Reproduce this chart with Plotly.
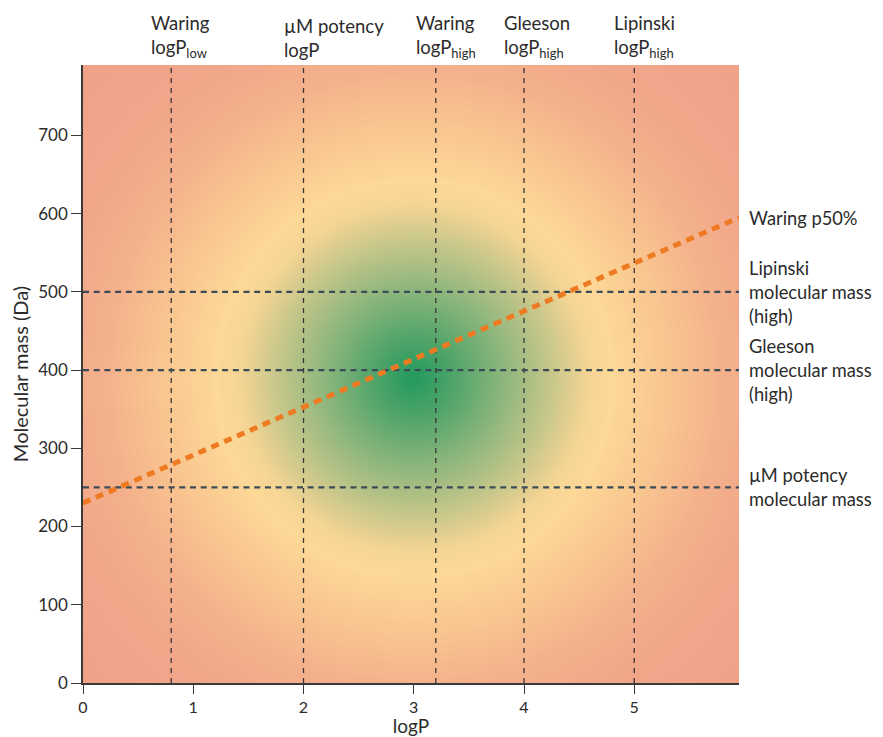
import numpy as np
import plotly.graph_objects as go

# ---- data ----
logp_lines = [0.8, 2.0, 3.2, 4.0, 5.0]
logp_labels = ["Waring<br>logP<sub>low</sub>", "µM potency<br>logP", "Waring<br>logP<sub>high</sub>",
               "Gleeson<br>logP<sub>high</sub>", "Lipinski<br>logP<sub>high</sub>"]
mass_lines = [500, 400, 250]
mass_labels = ["Lipinski<br>molecular mass<br>(high)", "Gleeson<br>molecular mass<br>(high)",
               "µM potency<br>molecular mass"]
p50_x = [0.0, 5.95]
p50_y = [230, 595]
p50_label = "Waring p50%"
x_ticks = [0, 1, 2, 3, 4, 5]
y_ticks = [0, 100, 200, 300, 400, 500, 600, 700]
optimum = (3.0, 390)

X_MAX, Y_MAX = 5.95, 790
# page body has an 8px default margin: figure is sized to fill the remaining window
W, H = 875, 729
L, R, T, B = 75, 144, 57, 54
px_x = (W - L - R) / X_MAX
px_y = (H - T - B) / Y_MAX

# background radial gradient (decorative)
gx = np.linspace(0, X_MAX, 150)
gy = np.linspace(0, Y_MAX, 200)
GX, GY = np.meshgrid(gx, gy)
rad = np.sqrt(((GX - optimum[0]) * px_x) ** 2 + ((GY - optimum[1]) * px_y) ** 2)
RMAX = 460
z = np.clip(rad / RMAX, 0, 1)

colorscale = [
    [0.0, "#239a5e"],
    [0.08, "#4ca369"],
    [0.20, "#90b77d"],
    [0.30, "#c8c78b"],
    [0.38, "#f6d594"],
    [0.43, "#fdd897"],
    [0.54, "#f9c790"],
    [0.67, "#f4b18c"],
    [0.80, "#f1a68a"],
    [1.0, "#f0a189"],
]

fig = go.Figure()
fig.add_trace(go.Heatmap(x=gx, y=gy, z=z, colorscale=colorscale, zmin=0, zmax=1,
                         zsmooth="best", showscale=False, hoverinfo="skip"))

for xv in logp_lines:
    fig.add_trace(go.Scatter(x=[xv, xv], y=[0, Y_MAX], mode="lines",
                             line=dict(color="#3a3433", width=1.3, dash="5px,5px"),
                             showlegend=False, hoverinfo="skip"))
for yv in mass_lines:
    fig.add_trace(go.Scatter(x=[0, X_MAX], y=[yv, yv], mode="lines",
                             line=dict(color="#3b4c58", width=2.3, dash="6px,4.7px"),
                             showlegend=False, hoverinfo="skip"))
fig.add_trace(go.Scatter(x=p50_x, y=p50_y, mode="lines",
                         line=dict(color="#ee7a22", width=5, dash="8px,6px"),
                         showlegend=False, hoverinfo="skip"))

font = "Lato, 'Open Sans', sans-serif"
TXT = "#2b2b2b"
annotations = []
for xv, lab in zip(logp_lines, logp_labels):
    annotations.append(dict(x=xv, y=1.0, xref="x", yref="paper", text=lab, showarrow=False,
                            xanchor="left", yanchor="bottom", xshift=-22, yshift=2, align="left",
                            font=dict(size=18.5, color=TXT, family=font)))
for yv, lab in zip(mass_lines, mass_labels):
    annotations.append(dict(x=1.0, y=yv, xref="paper", yref="y", text=lab, showarrow=False,
                            xanchor="left", yanchor="middle", xshift=8, align="left",
                            font=dict(size=18.3, color=TXT, family=font)))
annotations.append(dict(x=1.0, y=p50_y[1], xref="paper", yref="y", text=p50_label, showarrow=False,
                        xanchor="left", yanchor="middle", xshift=8, align="left",
                        font=dict(size=18.3, color=TXT, family=font)))

fig.update_layout(
    width=W, height=H, margin=dict(l=L, r=R, t=T, b=B, autoexpand=False),
    paper_bgcolor="white", plot_bgcolor="white",
    font=dict(family=font, size=17, color=TXT),
    annotations=annotations, showlegend=False,
    xaxis=dict(range=[0, X_MAX], tickvals=x_ticks, ticks="outside", ticklen=9, tickwidth=1.2,
               tickcolor="#3a3a3a", showline=True, linecolor="#3a3a3a", linewidth=1.5,
               showgrid=False, zeroline=False, automargin=False,
               title=dict(text="logP", standoff=6, font=dict(size=19)),
               tickfont=dict(size=16)),
    yaxis=dict(range=[0, Y_MAX], tickvals=y_ticks, ticks="outside", ticklen=10, tickwidth=1.2,
               tickcolor="#3a3a3a", showline=True, linecolor="#3a3a3a", linewidth=1.5,
               showgrid=False, zeroline=False, automargin=False,
               title=dict(text="Molecular mass (Da)", standoff=9, font=dict(size=20)),
               tickfont=dict(size=17)),
)
fig.write_html("out.html")
